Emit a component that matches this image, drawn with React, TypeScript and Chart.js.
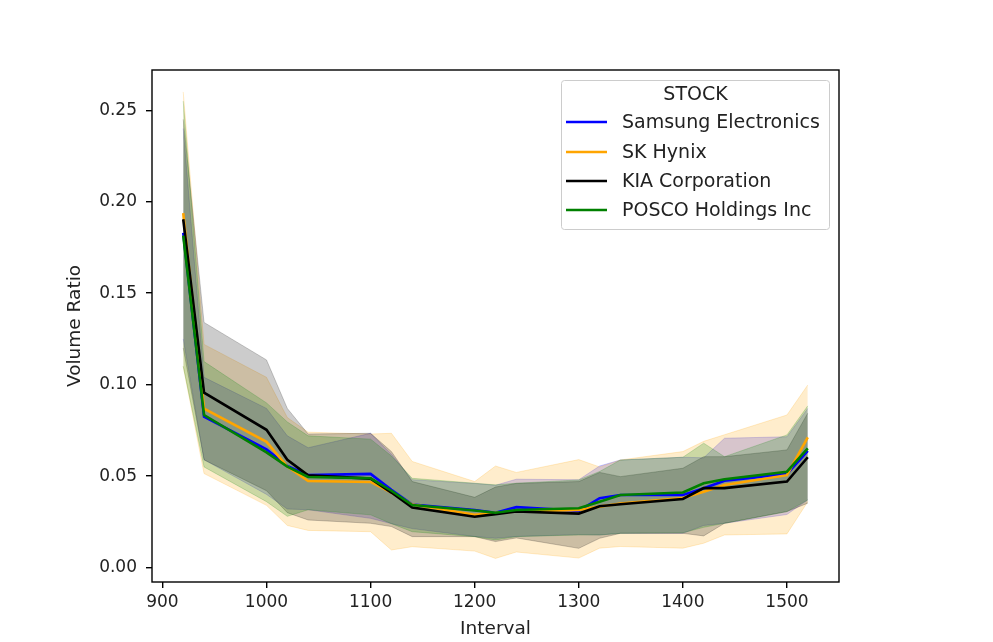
import React, { useRef, useEffect } from "react";
import Chart from "chart.js/auto";

const intervals = [920, 940, 1000, 1020, 1040, 1100, 1120, 1140, 1200, 1220, 1240, 1300, 1320, 1340, 1400, 1420, 1440, 1500, 1520];

const samsungMean = [0.183, 0.0825, 0.0646, 0.0555, 0.0505, 0.0512, 0.0425, 0.0345, 0.0315, 0.03, 0.033, 0.031, 0.0379, 0.0397, 0.0397, 0.0434, 0.0475, 0.0512, 0.0638];
const samsungLow = [0.125, 0.0589, 0.04, 0.032, 0.0316, 0.0269, 0.024, 0.0213, 0.017, 0.016, 0.017, 0.018, 0.0178, 0.0187, 0.0187, 0.023, 0.0242, 0.029, 0.037];
const samsungHigh = [0.24, 0.104, 0.087, 0.072, 0.0655, 0.0734, 0.062, 0.048, 0.046, 0.045, 0.0483, 0.048, 0.0555, 0.0588, 0.0603, 0.06, 0.0707, 0.0715, 0.087];

const hynixMean = [0.1937, 0.0868, 0.0687, 0.0552, 0.0473, 0.0468, 0.041, 0.0344, 0.0289, 0.03, 0.0307, 0.0315, 0.0333, 0.035, 0.038, 0.0415, 0.0451, 0.0505, 0.0712];
const hynixLow = [0.11, 0.0514, 0.034, 0.023, 0.0203, 0.0196, 0.0096, 0.0114, 0.009, 0.005, 0.0085, 0.0052, 0.0106, 0.0115, 0.0106, 0.0133, 0.0178, 0.0184, 0.036];
const hynixHigh = [0.26, 0.122, 0.104, 0.082, 0.074, 0.073, 0.0734, 0.058, 0.047, 0.0555, 0.052, 0.059, 0.055, 0.0588, 0.0634, 0.069, 0.0726, 0.0834, 0.0998];

const kiaMean = [0.1904, 0.0956, 0.0753, 0.0589, 0.0504, 0.0486, 0.041, 0.0328, 0.0278, 0.0292, 0.0306, 0.0295, 0.0335, 0.0346, 0.0375, 0.0434, 0.0434, 0.047, 0.0603];
const kiaLow = [0.12, 0.0589, 0.042, 0.03, 0.026, 0.0242, 0.0224, 0.0169, 0.0169, 0.0142, 0.0162, 0.0105, 0.016, 0.0187, 0.0187, 0.0173, 0.0242, 0.0306, 0.0352];
const kiaHigh = [0.245, 0.134, 0.1135, 0.087, 0.073, 0.0734, 0.0634, 0.047, 0.0384, 0.044, 0.046, 0.047, 0.052, 0.0497, 0.0543, 0.0606, 0.0606, 0.0643, 0.0844];

const poscoMean = [0.1815, 0.0834, 0.063, 0.0552, 0.0495, 0.0488, 0.042, 0.0342, 0.0312, 0.03, 0.0315, 0.0324, 0.036, 0.0397, 0.041, 0.0461, 0.0483, 0.0524, 0.0652];
const poscoLow = [0.11, 0.055, 0.036, 0.028, 0.0316, 0.0288, 0.024, 0.0196, 0.0169, 0.0151, 0.0169, 0.0178, 0.0178, 0.0187, 0.019, 0.022, 0.0242, 0.0306, 0.037];
const poscoHigh = [0.255, 0.1126, 0.09, 0.0796, 0.072, 0.0702, 0.061, 0.0488, 0.0461, 0.0452, 0.0461, 0.0479, 0.0525, 0.0588, 0.0603, 0.068, 0.0606, 0.0725, 0.0884];

const xTicks = [900, 1000, 1100, 1200, 1300, 1400, 1500];
const yTicks = [0, 0.05, 0.1, 0.15, 0.2, 0.25];

const series = [
  { name: "Samsung Electronics", color: "#0000ff", band: "rgba(0,0,255,0.2)", mean: samsungMean, low: samsungLow, high: samsungHigh },
  { name: "SK Hynix", color: "#ffa500", band: "rgba(255,165,0,0.2)", mean: hynixMean, low: hynixLow, high: hynixHigh },
  { name: "KIA Corporation", color: "#000000", band: "rgba(0,0,0,0.2)", mean: kiaMean, low: kiaLow, high: kiaHigh },
  { name: "POSCO Holdings Inc", color: "#008000", band: "rgba(0,128,0,0.2)", mean: poscoMean, low: poscoLow, high: poscoHigh },
];

const FONT = "DejaVu Sans";

const pts = (vals: number[]) => intervals.map((x, i) => ({ x, y: vals[i] }));

const framePlugin = {
  id: "frame",
  afterDraw(chart: any) {
    const { ctx, chartArea } = chart;
    ctx.save();
    ctx.strokeStyle = "#000";
    ctx.lineWidth = 1.4;
    ctx.strokeRect(chartArea.left, chartArea.top, chartArea.right - chartArea.left, chartArea.bottom - chartArea.top);

    // legend box, upper right
    const bx = 561.5, by = 80.5, bw = 268, bh = 149;
    ctx.fillStyle = "rgba(255,255,255,0.8)";
    ctx.strokeStyle = "#cccccc";
    ctx.lineWidth = 1;
    ctx.beginPath();
    ctx.roundRect(bx, by, bw, bh, 3);
    ctx.fill();
    ctx.stroke();

    ctx.fillStyle = "#222";
    ctx.font = `19px "${FONT}"`;
    ctx.textBaseline = "middle";
    ctx.textAlign = "center";
    ctx.fillText("STOCK", bx + bw / 2, 95);
    ctx.textAlign = "left";
    const rows = [122, 152, 181, 210];
    series.forEach((s, i) => {
      ctx.strokeStyle = s.color;
      ctx.lineWidth = 2.6;
      ctx.beginPath();
      ctx.moveTo(566, rows[i]);
      ctx.lineTo(607, rows[i]);
      ctx.stroke();
      ctx.fillText(s.name, 622, rows[i] + 1);
    });
    ctx.restore();
  },
};

const App = () => {
  const canvasRef = useRef<HTMLCanvasElement>(null);

  useEffect(() => {
    document.body.style.margin = "0";
    const ctx = canvasRef.current?.getContext("2d");
    if (!ctx) return;

    const datasets: any[] = [];
    // bands first: blue drawn first, green last (on top of other bands)
    series.forEach((s, i) => {
      datasets.push({
        label: s.name + " high",
        data: pts(s.high),
        borderColor: s.band,
        backgroundColor: s.band,
        borderWidth: 1,
        pointRadius: 0,
        fill: "+1",
        order: 20 - i,
      });
      datasets.push({
        label: s.name + " low",
        data: pts(s.low),
        borderColor: s.band,
        backgroundColor: s.band,
        borderWidth: 1,
        pointRadius: 0,
        fill: false,
        order: 20 - i,
      });
    });
    series.forEach((s, i) => {
      datasets.push({
        label: s.name,
        data: pts(s.mean),
        borderColor: s.color,
        backgroundColor: s.color,
        borderWidth: 2.6,
        pointRadius: 0,
        fill: false,
        order: 4 - i,
      });
    });

    const tickFont = { family: FONT, size: 17 };
    const titleFont = { family: FONT, size: 18.5 };

    const chart = new Chart(ctx, {
      type: "line",
      data: { datasets },
      options: {
        animation: false,
        responsive: true,
        maintainAspectRatio: false,
        layout: { padding: { left: 64, top: 70, right: 154, bottom: 2 } },
        plugins: { legend: { display: false }, tooltip: { enabled: false } },
        scales: {
          x: {
            type: "linear",
            min: 890,
            max: 1550,
            afterBuildTicks: (scale: any) => {
              scale.ticks = xTicks.map((v) => ({ value: v }));
            },
            afterFit: (scale: any) => {
              scale.height = 58;
            },
            ticks: { font: tickFont, color: "#222", padding: 4, callback: (v: any) => String(v) },
            grid: { drawOnChartArea: false, drawTicks: true, tickLength: 6, color: "#000", lineWidth: 1.4 },
            border: { display: false },
            title: { display: true, text: "Interval", font: titleFont, color: "#222", padding: 0 },
          },
          y: {
            type: "linear",
            min: -0.0079,
            max: 0.272,
            afterBuildTicks: (scale: any) => {
              scale.ticks = yTicks.map((v) => ({ value: v }));
            },
            afterFit: (scale: any) => {
              scale.width = 88;
            },
            ticks: {
              font: tickFont,
              color: "#222",
              padding: 9,
              callback: (v: any) => Number(v).toFixed(2),
            },
            grid: { drawOnChartArea: false, drawTicks: true, tickLength: 6, color: "#000", lineWidth: 1.4 },
            border: { display: false },
            title: { display: true, text: "Volume Ratio", font: titleFont, color: "#222", padding: 0 },
          },
        },
      },
      plugins: [framePlugin],
    });

    return () => {
      chart.destroy();
    };
  }, []);

  return (
    <div style={{ width: 993, height: 642, position: "relative" }}>
      <canvas ref={canvasRef}></canvas>
    </div>
  );
};

export default App;
